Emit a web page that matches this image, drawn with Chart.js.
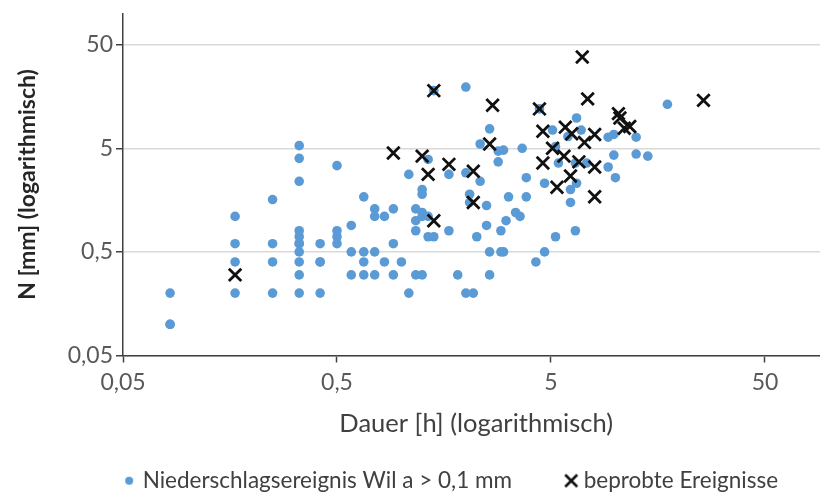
<!DOCTYPE html>
<html lang="de">
<head>
<meta charset="UTF-8">
<title>Niederschlagsereignisse Wila – Dauer und Niederschlag</title>
<style>
  html, body { margin: 0; padding: 0; background: #fff; overflow: hidden; }
  #wrap { position: relative; width: 841px; height: 493px; }
</style>
</head>
<body>
<div id="wrap"><canvas id="chart"></canvas></div>

<script src="https://cdn.jsdelivr.net/npm/chart.js"></script>
<script>
// alle Niederschlagsereignisse: Dauer [h] und N [mm]
const rainDuration = [
  0.083, 0.083, 0.083,
  0.167, 0.167, 0.167, 0.167,
  0.25, 0.25, 0.25, 0.25,
  0.333, 0.333, 0.333, 0.333, 0.333, 0.333, 0.333, 0.333, 0.333, 0.333, 0.333,
  0.417, 0.417, 0.417, 0.417,
  0.5, 0.5, 0.5, 0.5,
  0.583, 0.583, 0.583,
  0.667, 0.667, 0.667, 0.667,
  0.75, 0.75, 0.75, 0.75,
  0.833, 0.833,
  0.917, 0.917, 0.917,
  1.0,
  1.083, 1.083,
  1.167, 1.167, 1.167, 1.167,
  1.25, 1.25, 1.25, 1.25, 1.25,
  1.333, 1.333, 1.333,
  1.417, 1.417,
  1.667, 1.667,
  1.833,
  2.0, 2.0, 2.0,
  2.083, 2.083,
  2.167,
  2.25,
  2.333, 2.333,
  2.5, 2.5,
  2.583, 2.583, 2.583,
  2.833, 2.833,
  2.917, 2.917,
  3.0, 3.0,
  3.083, 3.167, 3.417, 3.583, 3.667,
  3.833, 3.833,
  4.25, 4.417,
  4.667, 4.667,
  5.083,
  5.25, 5.25,
  5.417, 6.0,
  6.167, 6.167,
  6.5, 6.5,
  6.583, 6.583,
  6.917, 7.333,
  9.25, 9.25,
  9.833, 9.833,
  10.0,
  12.5, 12.5,
  14.17, 17.5
];
const rainDepth = [
  0.2, 0.1, 0.1,
  1.1, 0.6, 0.4, 0.2,
  1.6, 0.6, 0.4, 0.2,
  5.3, 4.0, 2.4, 0.8, 0.7, 0.6, 0.6, 0.5, 0.4, 0.3, 0.2,
  0.6, 0.4, 0.4, 0.2,
  3.4, 0.8, 0.7, 0.6,
  0.9, 0.5, 0.3,
  1.7, 0.5, 0.4, 0.3,
  1.3, 1.1, 0.5, 0.3,
  1.1, 0.4,
  1.3, 0.6, 0.3,
  0.4,
  2.8, 0.2,
  1.3, 1.0, 0.8, 0.3,
  2.0, 1.8, 1.2, 1.1, 0.3,
  3.9, 1.1, 0.7,
  18, 0.7,
  2.8, 0.8,
  0.3,
  19.5, 2.9, 0.2,
  1.8, 1.5,
  0.2,
  0.7,
  5.5, 2.4,
  1.4, 0.9,
  7.7, 0.5, 0.3,
  4.7, 3.7,
  0.8, 0.5,
  4.8, 0.5,
  1.0, 1.7, 1.2, 1.1, 5.0,
  2.6, 1.7,
  0.4, 12,
  2.3, 0.5,
  7.5,
  5.2, 0.7,
  3.6, 6.5,
  2.0, 1.5,
  3.6, 0.8,
  9.8, 2.3,
  7.5, 3.6,
  6.4, 3.3,
  6.8, 4.3,
  2.6,
  6.4, 4.4,
  4.2, 13.3
];

// beprobte Ereignisse
const sampledDuration = [0.167, 0.917, 1.25, 1.333, 1.417, 1.417, 1.667, 2.167, 2.167, 2.583, 2.667,
  4.417, 4.583, 4.583, 5.083, 5.333, 5.75, 5.833, 6.167, 6.25, 6.75, 7.0, 7.167, 7.417,
  8.0, 8.0, 8.0, 10.33, 10.5, 11.0, 11.67, 25.8];
const sampledDepth = [0.3, 4.5, 4.2, 2.8, 18, 1.0, 3.5, 3.0, 1.5, 5.5, 13,
  12, 7.3, 3.6, 5.0, 2.1, 4.2, 8.0, 2.7, 6.9, 3.7, 38, 5.7, 15,
  6.8, 3.3, 1.7, 10.8, 9.8, 7.8, 8.1, 14.5];

const axisTicks = [0.05, 0.5, 5, 50];

const toPoints = (xs, ys) => xs.map((x, i) => ({ x: x, y: ys[i] }));
const fmt = v => String(v).replace('.', ',');
const fixTicks = scale => { scale.ticks = axisTicks.map(v => ({ value: v })); };

// small legend symbols, drawn a bit right of centre so they sit close to the text
function legendMark(draw) {
  const c = document.createElement('canvas');
  c.width = 40;
  c.height = 20;
  draw(c.getContext('2d'));
  return c;
}
const dotMark = legendMark(g => {
  g.fillStyle = '#5b9bd5';
  g.beginPath();
  g.arc(29, 10, 4, 0, Math.PI * 2);
  g.fill();
});
const crossMark = legendMark(g => {
  g.strokeStyle = '#111';
  g.lineWidth = 2.6;
  g.beginPath();
  g.moveTo(24, 4); g.lineTo(36, 16);
  g.moveTo(36, 4); g.lineTo(24, 16);
  g.stroke();
});
const legendMarks = [dotMark, crossMark];

// Excel puts the legend a little left of the plot centre
const legendOffset = {
  id: 'legendOffset',
  afterLayout(chart) {
    chart.legend.left += 25;
    chart.legend.right += 25;
  }
};

Chart.defaults.font.family = 'Lato, "Noto Sans", sans-serif';

new Chart(document.getElementById('chart'), {
  type: 'scatter',
  data: {
    datasets: [
      {
        label: 'Niederschlagsereignis Wil a > 0,1 mm',
        data: toPoints(rainDuration, rainDepth),
        pointStyle: 'circle',
        pointRadius: 4.8,
        pointBackgroundColor: '#5b9bd5',
        pointBorderWidth: 0,
        order: 2
      },
      {
        label: 'beprobte Ereignisse',
        data: toPoints(sampledDuration, sampledDepth),
        pointStyle: 'crossRot',
        pointRadius: 8.8,
        pointBorderColor: '#111',
        pointBorderWidth: 2.8,
        order: 1
      }
    ]
  },
  options: {
    responsive: true,
    maintainAspectRatio: false,
    animation: false,
    layout: { padding: { top: 13.5, right: 4, bottom: -9, left: 0 } },
    scales: {
      x: {
        type: 'logarithmic',
        min: 0.05,
        max: 100,
        afterBuildTicks: fixTicks,
        afterFit: s => { s.height = 76; },
        grid: { drawOnChartArea: false, tickLength: 7, tickColor: '#404040', tickWidth: 1.5 },
        border: { color: '#404040', width: 1.5 },
        ticks: { color: '#595959', font: { size: 23 }, padding: 6, maxRotation: 0, autoSkip: false, callback: fmt },
        title: {
          display: true,
          text: 'Dauer [h] (logarithmisch)',
          color: '#404040',
          font: { size: 25.5 },
          padding: { top: 0, bottom: -8 }
        }
      },
      y: {
        type: 'logarithmic',
        min: 0.05,
        max: 100,
        afterBuildTicks: fixTicks,
        afterFit: s => { s.width = 123; },
        grid: { color: '#d9d9d9', lineWidth: 1.5, tickLength: 7, tickColor: '#404040', tickWidth: 1.5 },
        border: { color: '#404040', width: 1.5 },
        ticks: { color: '#595959', font: { size: 23, lineHeight: 0.9 }, padding: 3, autoSkip: false, callback: fmt },
        title: {
          display: true,
          text: 'N [mm] (logarithmisch)',
          color: '#262626',
          font: { size: 23, weight: 'bold' },
          padding: { top: 14, bottom: 0 }
        }
      }
    },
    plugins: {
      tooltip: { enabled: false },
      legend: {
        position: 'bottom',
        labels: {
          usePointStyle: true,
          padding: 38,
          color: '#404040',
          font: { size: 22.5 },
          generateLabels: chart => chart.data.datasets.map((ds, i) => ({
            text: ds.label,
            pointStyle: legendMarks[i],
            datasetIndex: i,
            hidden: false,
            lineWidth: 0,
            fontColor: '#404040'
          }))
        }
      }
    }
  },
  plugins: [legendOffset]
});
</script>
</body>
</html>
